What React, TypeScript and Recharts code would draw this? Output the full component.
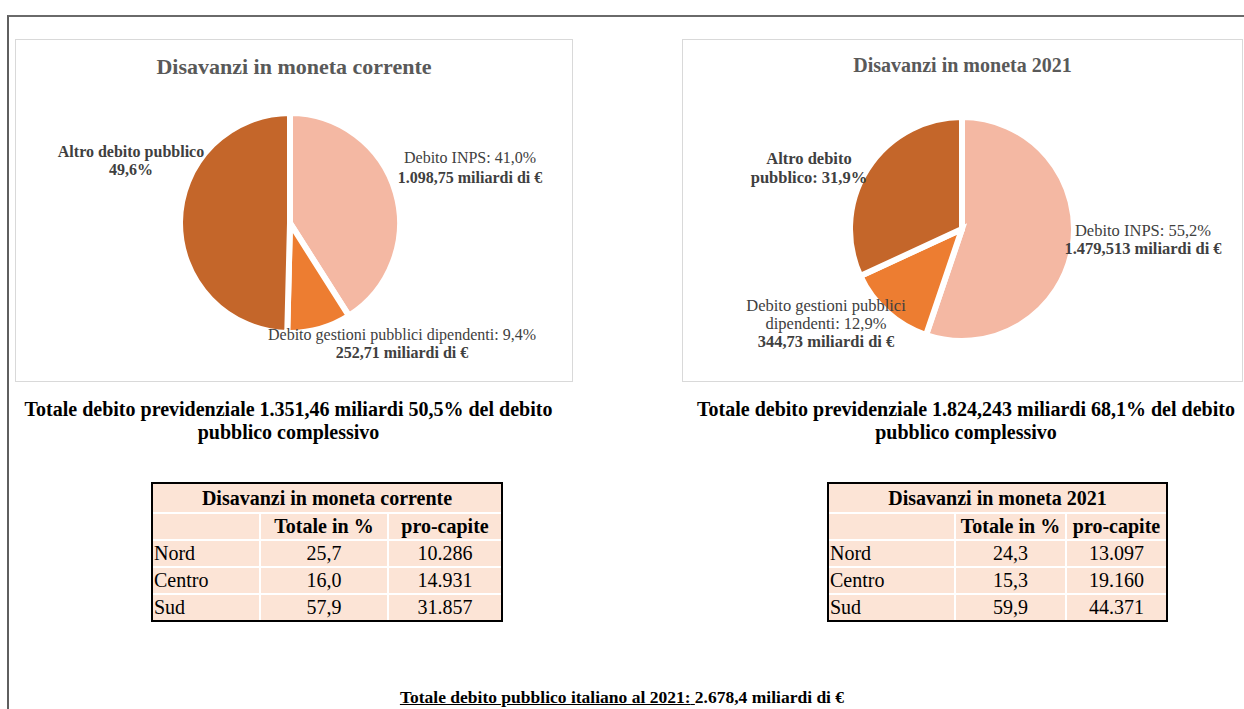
import { Cell, Pie, PieChart } from "recharts";

const categories = [
  "Debito INPS",
  "Debito gestioni pubblici dipendenti",
  "Altro debito pubblico",
];
const sharesCorrente = [41.0, 9.4, 49.6];
const amountsCorrente = ["1.098,75", "252,71"];
const shares2021 = [55.2, 12.9, 31.9];
const amounts2021 = ["1.479,513", "344,73"];

const regions = ["Nord", "Centro", "Sud"];
const quotaCorrente = [25.7, 16.0, 57.9];
const procapiteCorrente = [10286, 14931, 31857];
const quota2021 = [24.3, 15.3, 59.9];
const procapite2021 = [13097, 19160, 44371];

const COLORS = ["#F4B8A3", "#ED7D31", "#C4662A"];
const FONT = '"Liberation Serif", "Times New Roman", serif';

const pct = (v: number) => `${v.toFixed(1).replace(".", ",")}%`;
const dec = (v: number) => v.toFixed(1).replace(".", ",");
const thousands = (v: number) => String(v).replace(/\B(?=(\d{3})+(?!\d))/g, ".");

type Line = { text: string; bold?: boolean };
type Spot = { dx: number; dy: number; lh: number };

const linesCorrente = (i: number): Line[] => {
  const v = sharesCorrente[i];
  if (i === 0)
    return [
      { text: `${categories[0]}: ${pct(v)}` },
      { text: `${amountsCorrente[0]} miliardi di €`, bold: true },
    ];
  if (i === 1)
    return [
      { text: `Debito gestioni pubblici  dipendenti:  ${pct(v)}` },
      { text: `${amountsCorrente[1]} miliardi di €`, bold: true },
    ];
  return [
    { text: categories[2], bold: true },
    { text: pct(v), bold: true },
  ];
};

const lines2021 = (i: number): Line[] => {
  const v = shares2021[i];
  if (i === 0)
    return [
      { text: `${categories[0]}: ${pct(v)}` },
      { text: `${amounts2021[0]} miliardi di €`, bold: true },
    ];
  if (i === 1)
    return [
      { text: "Debito gestioni pubblici" },
      { text: `dipendenti:  ${pct(v)}` },
      { text: `${amounts2021[1]} miliardi di €`, bold: true },
    ];
  return [
    { text: "Altro debito", bold: true },
    { text: `pubblico: ${pct(v)}`, bold: true },
  ];
};

const spotsCorrente: Spot[] = [
  { dx: 180, dy: -60, lh: 20 },
  { dx: 112, dy: 117, lh: 18 },
  { dx: -159, dy: -66, lh: 18 },
];
const spots2021: Spot[] = [
  { dx: 181, dy: 7, lh: 18 },
  { dx: -136, dy: 82, lh: 18 },
  { dx: -153, dy: -65, lh: 19 },
];

const makeLabel =
  (spots: Spot[], lines: (i: number) => Line[], size: number) => (props: any) => {
    const { cx, cy, index } = props;
    const s = spots[index];
    return (
      <text
        key={index}
        textAnchor="middle"
        fontFamily={FONT}
        fontSize={size}
        fill="#404040"
      >
        {lines(index).map((l, k) => (
          <tspan
            key={k}
            x={cx + s.dx}
            y={cy + s.dy + k * s.lh}
            fontWeight={l.bold ? 700 : 400}
          >
            {l.text}
          </tspan>
        ))}
      </text>
    );
  };

function PieBox({
  title,
  titleSize,
  labelSize,
  shares,
  left,
  width,
  cx,
  cy,
  radius,
  spots,
  lines,
}: {
  title: string;
  titleSize: number;
  labelSize: number;
  shares: number[];
  left: number;
  width: number;
  cx: number;
  cy: number;
  radius: number;
  spots: Spot[];
  lines: (i: number) => Line[];
}) {
  const data = categories.map((name, i) => ({ name, value: shares[i] }));
  return (
    <div
      style={{
        position: "absolute",
        left,
        top: 39,
        width,
        height: 343,
        border: "1px solid #D9D9D9",
        boxSizing: "border-box",
      }}
    >
      <div
        style={{
          position: "absolute",
          left: 0,
          right: 0,
          top: 14,
          textAlign: "center",
          fontWeight: 700,
          fontSize: titleSize,
          color: "#595959",
        }}
      >
        {title}
      </div>
      <PieChart
        width={width - 2}
        height={341}
        margin={{ top: 0, right: 0, bottom: 0, left: 0 }}
      >
        <Pie
          data={data}
          dataKey="value"
          nameKey="name"
          cx={cx}
          cy={cy}
          outerRadius={radius}
          startAngle={90}
          endAngle={-270}
          stroke="#ffffff"
          strokeWidth={6}
          labelLine={false}
          label={makeLabel(spots, lines, labelSize)}
          isAnimationActive={false}
        >
          {data.map((_, i) => (
            <Cell key={i} fill={COLORS[i]} />
          ))}
        </Pie>
      </PieChart>
    </div>
  );
}

function RegionTable({
  title,
  left,
  cols,
  quota,
  procapite,
}: {
  title: string;
  left: number;
  cols: number[];
  quota: number[];
  procapite: number[];
}) {
  const cell = { background: "#FCE4D6", display: "flex", alignItems: "center" } as const;
  return (
    <div
      style={{
        position: "absolute",
        left,
        top: 482,
        border: "2px solid #000",
        background: "#fff",
        display: "grid",
        gridTemplateColumns: cols.map((c) => `${c}px`).join(" "),
        gridTemplateRows: "28px 25px 25px 25px 25px",
        gap: 2,
        fontSize: 20,
        color: "#000",
        whiteSpace: "nowrap",
      }}
    >
      <div style={{ ...cell, gridColumn: "1 / 4", justifyContent: "center", fontWeight: 700 }}>
        {title}
      </div>
      <div style={cell} />
      <div style={{ ...cell, justifyContent: "center", fontWeight: 700 }}>Totale in %</div>
      <div style={{ ...cell, justifyContent: "center", fontWeight: 700 }}>pro-capite</div>
      {regions.map((r, i) => [
        <div key={`r${i}`} style={{ ...cell, paddingLeft: 1 }}>{r}</div>,
        <div key={`q${i}`} style={{ ...cell, justifyContent: "center" }}>{dec(quota[i])}</div>,
        <div key={`p${i}`} style={{ ...cell, justifyContent: "center" }}>{thousands(procapite[i])}</div>,
      ])}
    </div>
  );
}

export default function App() {
  return (
    <div
      style={{
        position: "absolute",
        left: 0,
        top: 0,
        width: 1244,
        height: 709,
        overflow: "hidden",
        background: "#fff",
        fontFamily: FONT,
      }}
    >
      <div
        style={{
          position: "absolute",
          left: 7,
          top: 15,
          width: 1260,
          height: 720,
          borderLeft: "2px solid #5f5f5f",
          borderTop: "2px solid #6a6a6a",
        }}
      />

      <PieBox
        title="Disavanzi in moneta corrente"
        titleSize={22}
        labelSize={16}
        shares={sharesCorrente}
        left={15}
        width={558}
        cx={274}
        cy={183}
        radius={110}
        spots={spotsCorrente}
        lines={linesCorrente}
      />
      <PieBox
        title="Disavanzi in moneta 2021"
        titleSize={20}
        labelSize={16.5}
        shares={shares2021}
        left={682}
        width={561}
        cx={279}
        cy={189}
        radius={112}
        spots={spots2021}
        lines={lines2021}
      />

      <div
        style={{
          position: "absolute",
          left: 10,
          width: 557,
          top: 398,
          textAlign: "center",
          fontWeight: 700,
          fontSize: 20,
          lineHeight: "23px",
          whiteSpace: "nowrap",
        }}
      >
        Totale debito previdenziale 1.351,46 miliardi 50,5% del debito
        <br />
        pubblico complessivo
      </div>
      <div
        style={{
          position: "absolute",
          left: 688,
          width: 556,
          top: 398,
          textAlign: "center",
          fontWeight: 700,
          fontSize: 20,
          lineHeight: "23px",
          whiteSpace: "nowrap",
        }}
      >
        Totale debito previdenziale 1.824,243 miliardi 68,1% del debito
        <br />
        pubblico complessivo
      </div>

      <RegionTable
        title="Disavanzi in moneta corrente"
        left={151}
        cols={[106, 126, 112]}
        quota={quotaCorrente}
        procapite={procapiteCorrente}
      />
      <RegionTable
        title="Disavanzi in moneta 2021"
        left={827}
        cols={[125, 109, 99]}
        quota={quota2021}
        procapite={procapite2021}
      />

      <div
        style={{
          position: "absolute",
          left: 0,
          width: 1244,
          top: 687,
          textAlign: "center",
          fontWeight: 700,
          fontSize: 17.5,
        }}
      >
        <span style={{ textDecoration: "underline" }}>
          Totale debito pubblico italiano al 2021:{" "}
        </span>
        2.678,4 miliardi di €
      </div>
    </div>
  );
}
